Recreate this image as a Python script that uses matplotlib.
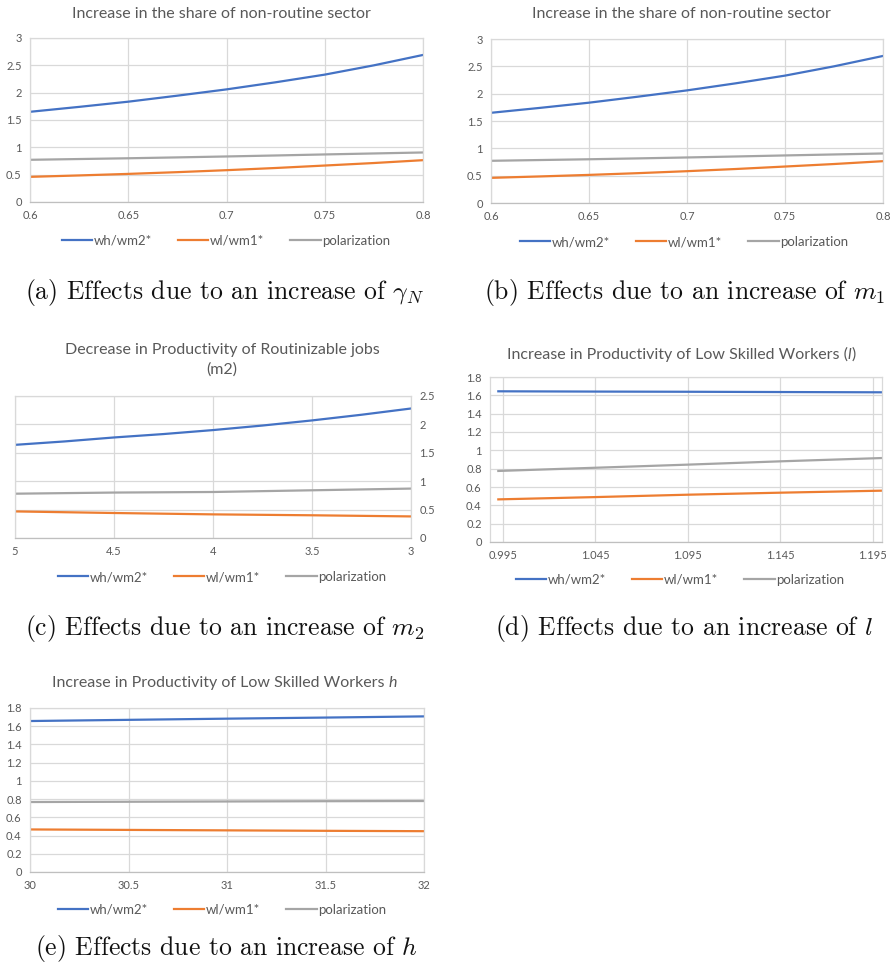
import matplotlib
matplotlib.use("Agg")
import matplotlib.pyplot as plt
from matplotlib.text import Annotation

plt.rcParams['mathtext.fontset'] = 'cm'
plt.rcParams['font.family'] = ['Lato', 'DejaVu Sans']

# ---------------- data ----------------
series_names = ["wh/wm2*", "wl/wm1*", "polarization"]

# (a) gamma_N and (b) m1
x_ab = [0.6, 0.625, 0.65, 0.675, 0.7, 0.725, 0.75, 0.775, 0.8]
wh_ab = [1.65, 1.74, 1.835, 1.945, 2.06, 2.19, 2.33, 2.50, 2.69]
wl_ab = [0.46, 0.486, 0.514, 0.546, 0.582, 0.622, 0.667, 0.713, 0.765]
pol_ab = [0.772, 0.786, 0.80, 0.816, 0.833, 0.851, 0.87, 0.888, 0.906]

# (c) m2 (decreasing)
x_c = [5, 4.75, 4.5, 4.25, 4, 3.75, 3.5, 3.25, 3]
wh_c = [1.64, 1.70, 1.77, 1.83, 1.90, 1.98, 2.07, 2.17, 2.28]
wl_c = [0.468, 0.454, 0.44, 0.428, 0.416, 0.408, 0.40, 0.39, 0.38]
pol_c = [0.78, 0.79, 0.80, 0.805, 0.81, 0.825, 0.84, 0.855, 0.87]

# (d) l
x_d = [0.9925, 1.045, 1.095, 1.145, 1.2]
wh_d = [1.644, 1.641, 1.639, 1.636, 1.633]
wl_d = [0.465, 0.49, 0.516, 0.538, 0.56]
pol_d = [0.775, 0.81, 0.844, 0.88, 0.916]

# (e) h
x_e = [30, 30.5, 31, 31.5, 32]
wh_e = [1.657, 1.67, 1.683, 1.695, 1.708]
wl_e = [0.467, 0.462, 0.457, 0.452, 0.448]
pol_e = [0.768, 0.771, 0.774, 0.777, 0.779]

ticks_ab = [0.6, 0.65, 0.7, 0.75, 0.8]
ticks_c = [5, 4.5, 4, 3.5, 3]
ticks_d = [0.995, 1.045, 1.095, 1.145, 1.195]
ticks_e = [30, 30.5, 31, 31.5, 32]

titles = [
    "Increase in the share of non-routine sector",
    "Increase in the share of non-routine sector",
    "Decrease in Productivity of Routinizable jobs\n(m2)",
    "Increase in Productivity of Low Skilled Workers (",
    "Increase in Productivity of Low Skilled Workers ",
]
captions = [
    "(a) Effects due to an increase of $\\gamma_N$",
    "(b) Effects due to an increase of $m_1$",
    "(c) Effects due to an increase of $m_2$",
    "(d) Effects due to an increase of $l$",
    "(e) Effects due to an increase of $h$",
]

# ---------------- styling ----------------
W, H = 894, 966
fig = plt.figure(figsize=(W / 100, H / 100), dpi=100)
colors = ["#4472C4", "#ED7D31", "#A5A5A5"]
txt = "#595959"
grid = "#D9D9D9"
TFS = 11.5


def px_axes(l, t, r, b):
    return fig.add_axes([l / W, 1 - b / H, (r - l) / W, (b - t) / H])


def style(ax, xlim, ylim, xticks, yticks, fmt="{:g}", right=False):
    ax.set_xlim(*xlim)
    ax.set_ylim(*ylim)
    ax.set_xticks(xticks)
    ax.set_xticklabels([fmt.format(v) for v in xticks])
    ax.set_yticks(yticks)
    ax.set_yticklabels([f"{v:g}" for v in yticks])
    ax.grid(True, color=grid, linewidth=0.9)
    ax.set_axisbelow(True)
    for s in ax.spines.values():
        s.set_color(grid)
        s.set_linewidth(0.9)
    ax.spines['bottom'].set_color("#BFBFBF")
    ax.tick_params(length=0, labelsize=8, colors=txt, pad=6)
    if right:
        ax.yaxis.tick_right()


def draw(ax, x, ys):
    for y, c, n in zip(ys, colors, series_names):
        ax.plot(x, y, color=c, linewidth=1.6, label=n)


def legend(ax, ycenter_px, xcenter_px):
    ax.legend(loc='center', bbox_to_anchor=(xcenter_px / W, 1 - ycenter_px / H),
              bbox_transform=fig.transFigure, ncol=3, frameon=False,
              fontsize=9.5, handlelength=2.3, handletextpad=0.1,
              columnspacing=2.0, labelcolor=txt)


def title(xc, yc, s, ha='center'):
    return fig.text(xc / W, 1 - yc / H, s, ha=ha, va='center', fontsize=TFS,
                    color=txt, linespacing=1.45)


def caption(xl, yc, s):
    fig.text(xl / W, 1 - yc / H, s, ha='left', va='center', fontsize=18.5,
             family='cmr10', color='#111111')


# (a)
ax = px_axes(30, 38, 423, 202)
draw(ax, x_ab, [wh_ab, wl_ab, pol_ab])
style(ax, (0.6, 0.8), (0, 3), ticks_ab, [0, 0.5, 1, 1.5, 2, 2.5, 3])
legend(ax, 241, 226)
title(221, 14, titles[0])
caption(25, 292, captions[0])

# (b)
ax = px_axes(491, 39, 883, 203)
draw(ax, x_ab, [wh_ab, wl_ab, pol_ab])
style(ax, (0.6, 0.8), (0, 3), ticks_ab, [0, 0.5, 1, 1.5, 2, 2.5, 3])
legend(ax, 242, 684)
title(681, 14, titles[1])
caption(484, 292, captions[1])

# (c)
ax = px_axes(15, 396, 411, 538)
draw(ax, x_c, [wh_c, wl_c, pol_c])
style(ax, (5, 3), (0, 2.5), ticks_c, [0, 0.5, 1, 1.5, 2, 2.5], right=True)
legend(ax, 577, 222)
title(222, 360, titles[2])
caption(25, 628, captions[2])

# (d)
ax = px_axes(490, 377, 882, 542)
draw(ax, x_d, [wh_d, wl_d, pol_d])
style(ax, (0.988, 1.2), (0, 1.8), ticks_d,
      [0, 0.2, 0.4, 0.6, 0.8, 1, 1.2, 1.4, 1.6, 1.8], fmt="{:.3f}")
legend(ax, 580, 680)
t = title(507, 354, titles[3], ha='left')
a1 = fig.add_artist(Annotation(
    "l", xy=(1, 0), xycoords=t, va='bottom', ha='left', fontsize=TFS,
    color=txt, style='italic'))
fig.add_artist(Annotation(
    ")", xy=(1, 0), xycoords=a1, va='bottom', ha='left', fontsize=TFS,
    color=txt))
caption(495, 628, captions[3])

# (e)
ax = px_axes(30, 708, 424, 872)
draw(ax, x_e, [wh_e, wl_e, pol_e])
style(ax, (30, 32), (0, 1.8), ticks_e,
      [0, 0.2, 0.4, 0.6, 0.8, 1, 1.2, 1.4, 1.6, 1.8])
legend(ax, 910, 222)
t = title(52, 683, titles[4], ha='left')
fig.add_artist(Annotation(
    "h", xy=(1, 0), xycoords=t, va='bottom', ha='left', fontsize=TFS,
    color=txt, style='italic'))
caption(35, 948, captions[4])

fig.savefig("out.png", dpi=100, facecolor="white")
